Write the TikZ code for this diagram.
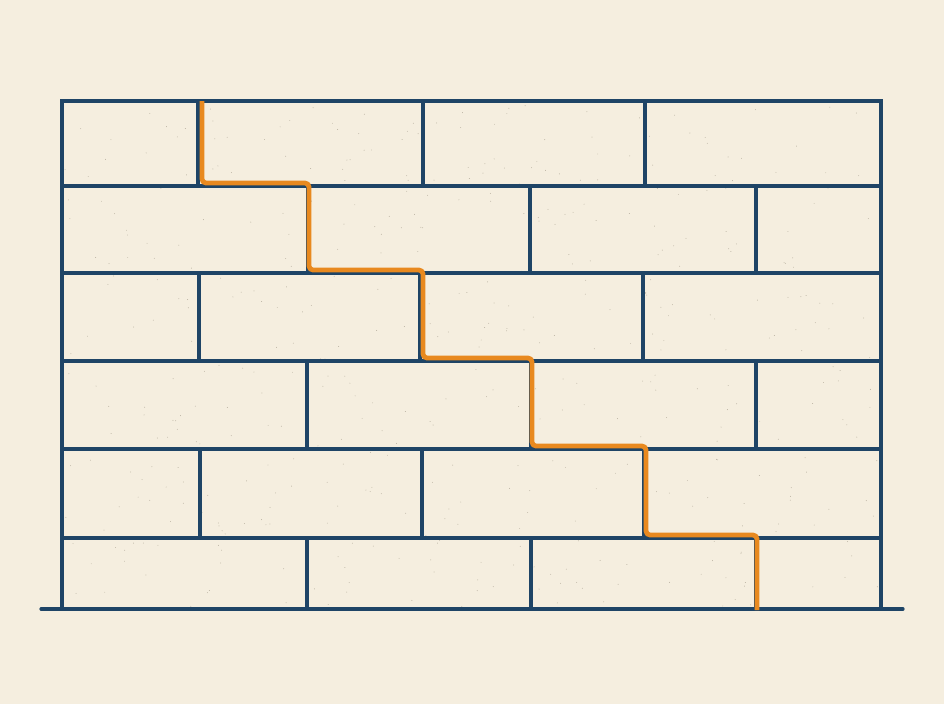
\documentclass[tikz,border=0pt]{standalone}
\begin{document}
\begin{tikzpicture}[x=0.75pt,y=-0.75pt,
  wall/.style={draw=wallblue,line width=2.4pt,line cap=rect},
  crack/.style={draw=crackorange,line width=3.6pt,rounded corners=3pt,line join=round}]
\definecolor{bg}{HTML}{F5EEDF}
\definecolor{wallblue}{HTML}{1E4466}
\definecolor{crackorange}{HTML}{E8891F}
\definecolor{speck}{HTML}{B8B0A0}
\fill[bg] (0,0) rectangle (944,704);
\useasboundingbox (0,0) rectangle (944,704);
% speckles
\pgfmathsetseed{7}
\foreach \i in {1,...,500}{
  \pgfmathsetmacro{\px}{65+rnd*814}
  \pgfmathsetmacro{\py}{104+rnd*503}
  \fill[speck] (\px,\py) circle (0.35pt);
}
% outer frame and courses
\draw[wall] (62,609) -- (62,101) -- (881,101) -- (881,609);
\foreach \y in {186,273,361,449,538}{\draw[wall] (62,\y) -- (881,\y);}
% head joints
\foreach \x in {198,423,645}{\draw[wall] (\x,101) -- (\x,186);}
\foreach \x in {308,530,756}{\draw[wall] (\x,186) -- (\x,273);}
\foreach \x in {199,420,643}{\draw[wall] (\x,273) -- (\x,361);}
\foreach \x in {307,531,756}{\draw[wall] (\x,361) -- (\x,449);}
\foreach \x in {200,422,644}{\draw[wall] (\x,449) -- (\x,538);}
\foreach \x in {307,531,756}{\draw[wall] (\x,538) -- (\x,609);}
% ground
\coordinate (g1) at (41,609);
\coordinate (g2) at (903,609);
\draw[wall,line cap=round] (g1) -- (g2);
% stair-step crack
\coordinate (c0) at (202,101);
\coordinate (c1) at (202,183);
\coordinate (c2) at (309,183);
\coordinate (c3) at (309,270);
\coordinate (c4) at (423,270);
\coordinate (c5) at (423,358);
\coordinate (c6) at (532,358);
\coordinate (c7) at (532,446);
\coordinate (c8) at (646,446);
\coordinate (c9) at (646,535);
\coordinate (c10) at (757,535);
\coordinate (c11) at (757,610);
\draw[crack] (c0) -- (c1) -- (c2) -- (c3) -- (c4) -- (c5) -- (c6) -- (c7) -- (c8) -- (c9) -- (c10) -- (c11);
\end{tikzpicture}
\end{document}
